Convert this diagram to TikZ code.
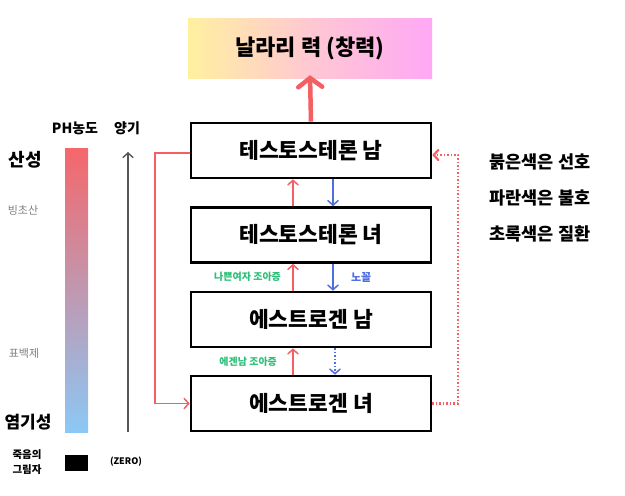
\documentclass[tikz,border=0pt]{standalone}
\usepackage{fontspec}
\setmainfont{Noto Sans CJK KR}
\usetikzlibrary{arrows.meta,positioning}
\definecolor{crimson}{HTML}{F45F63}
\definecolor{cobalt}{HTML}{4F6FE0}
\definecolor{mint}{HTML}{2DBE78}
\definecolor{sky}{HTML}{8CC8F5}
\definecolor{lemon}{HTML}{FFF0A0}
\definecolor{blush}{HTML}{FFC8D2}
\definecolor{orchid}{HTML}{FFA8F5}
\definecolor{ash}{HTML}{555555}

\begin{document}
\begin{tikzpicture}[
  x=1pt, y=-1pt,
  font=\bfseries,
  hormone/.style={draw=black, line width=2.6pt, fill=white,
    minimum width=240pt, minimum height=55pt, font=\fontsize{21.5}{24}\selectfont\bfseries},
  like/.style={-{Straight Barb[length=4.5pt,width=10pt,line cap=round]}, line width=1.5pt, draw=crimson},
  dislike/.style={-{Straight Barb[length=4.5pt,width=10pt,line cap=round]}, line width=1.5pt, draw=cobalt},
  note/.style={font=\fontsize{10}{12}\selectfont\bfseries, text=mint},
  legend/.style={font=\fontsize{17.5}{20}\selectfont\bfseries}
]
\useasboundingbox (0,0) rectangle (625,496);
% goal
\node[minimum width=244pt, minimum height=60pt, left color=lemon, right color=orchid,
  middle color=blush, font=\fontsize{22}{26}\selectfont\bfseries] (goal) at (310,48) {날라리 력 (창력)};
% hormone ladder
\node[hormone] (tm) at (311,150.5) {테스토스테론 남};
\node[hormone] (tf) at (311,235) {테스토스테론 녀};
\node[hormone] (em) at (311,319.5) {에스트로겐 남};
\node[hormone] (ef) at (311,403.5) {에스트로겐 녀};
\draw[-{Straight Barb[length=9pt,width=24pt,line cap=round]}, line width=4.5pt, draw=crimson]
  (tm.north) -- ([yshift=3pt]goal.south);
\draw[like] ([xshift=-18pt]tf.north) -- ([xshift=-18pt]tm.south);
\draw[dislike] ([xshift=22pt]tm.south) -- ([xshift=22pt]tf.north);
\draw[like] ([xshift=-18pt]em.north) -- node[note, left=8pt]{나쁜여자 조아증} ([xshift=-18pt]tf.south);
\draw[dislike] ([xshift=22pt]tf.south) -- node[note, right=14pt, text=cobalt, font=\fontsize{11}{13}\selectfont\bfseries]{노꼴} ([xshift=22pt]em.north);
\draw[like] ([xshift=-18pt]ef.north) -- node[note, left=12pt]{에겐남 조아증} ([xshift=-18pt]em.south);
\draw[dislike, dotted] ([xshift=24pt]em.south) -- ([xshift=24pt]ef.north);
\coordinate (lbend) at (155,153);
\coordinate (rbend) at (458,155);
\draw[like] (tm.west |- lbend) -- (lbend) |- (ef.west);
\draw[like, dotted, line width=2.2pt] (ef.east) -| (rbend) -- (tm.east |- rbend);
% legend
\node[legend] (red) at (540,162) {붉은색은 선호};
\node[legend] (blue) at (540,198) {파란색은 불호};
\node[legend] (green) at (540,234) {초록색은 질환};
% pH scale
\node[font=\fontsize{14}{16}\selectfont\bfseries] (ph) at (75,128) {PH농도};
\node[font=\fontsize{14}{16}\selectfont\bfseries] (yang) at (127,128) {양기};
\node[top color=crimson!95!white, bottom color=sky, minimum width=23pt, minimum height=284pt,
  inner sep=0pt] (bar) at (76.5,290) {};
\coordinate (yangtop) at (128,152);
\coordinate (yangbot) at (128,432);
\draw[-{Straight Barb[length=4.5pt,width=10pt,line cap=round]}, line width=1.4pt, draw=ash] (yangbot) -- (yangtop);
\node[font=\fontsize{18}{21}\selectfont\bfseries] (acid) at (25,160) {산성};
\node[font=\fontsize{11}{13}\selectfont, text=gray] (vinegar) at (23,210) {빙초산};
\node[font=\fontsize{11}{13}\selectfont, text=gray] (bleach) at (24,353) {표백제};
\node[font=\fontsize{17}{20}\selectfont\bfseries] (base) at (28,422) {염기성};
\node[font=\fontsize{10.5}{15}\selectfont\bfseries, align=center] (death) at (27,462) {죽음의\\그림자};
\node[fill=black, minimum width=23pt, minimum height=16pt, inner sep=0pt] (shadow) at (76.5,463) {};
\node[font=\fontsize{9}{11}\selectfont\bfseries] (zero) at (126,462) {(ZERO)};
\end{tikzpicture}
\end{document}
